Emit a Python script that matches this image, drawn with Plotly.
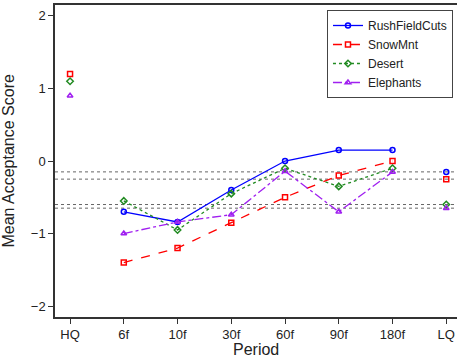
import plotly.graph_objects as go

periods = ["HQ", "6f", "10f", "30f", "60f", "90f", "180f", "LQ"]
rush = [None, -0.70, -0.84, -0.40, 0.00, 0.15, 0.15, -0.15]
snow = [1.20, -1.40, -1.20, -0.85, -0.50, -0.20, 0.00, -0.25]
desert = [1.10, -0.55, -0.95, -0.45, -0.10, -0.35, -0.10, -0.60]
eleph = [0.90, -1.00, -0.84, -0.74, -0.14, -0.70, -0.15, -0.65]

series = [
    ("RushFieldCuts", rush, "#0000FF", "solid", "circle-open"),
    ("SnowMnt", snow, "#FF0000", "dash", "square-open"),
    ("Desert", desert, "#228B22", "dot", "diamond-open"),
    ("Elephants", eleph, "#A020F0", "dashdot", "triangle-up-open"),
]

xi = list(range(len(periods)))
fig = go.Figure()

# reference lines at LQ levels
for name, vals, col, dash, sym in series:
    fig.add_hline(y=vals[-1], line=dict(color="#666666", width=1, dash="dot"), layer="below")

for name, vals, col, dash, sym in series:
    mid_x = xi[1:-1]
    mid_y = vals[1:-1]
    fig.add_trace(go.Scatter(
        x=mid_x, y=mid_y, mode="lines+markers", name=name, legendgroup=name,
        line=dict(color=col, dash=dash, width=1.3),
        marker=dict(symbol=sym, size=5, color=col, line=dict(width=1.5, color=col)),
    ))
    ends_x = [xi[0], xi[-1]]
    ends_y = [vals[0], vals[-1]]
    fig.add_trace(go.Scatter(
        x=ends_x, y=ends_y, mode="markers", name=name, legendgroup=name, showlegend=False,
        marker=dict(symbol=sym, size=5, color=col, line=dict(width=1.5, color=col)),
    ))

font_family = "Liberation Sans, Arial, sans-serif"
fig.update_layout(
    width=458, height=362,
    margin=dict(l=55, r=1, t=5, b=45),
    paper_bgcolor="white", plot_bgcolor="white",
    font=dict(family=font_family, size=13, color="#222222"),
    showlegend=True,
    legend=dict(
        x=0.99, y=0.984, xanchor="right", yanchor="top",
        bordercolor="#444444", borderwidth=1, bgcolor="white",
        font=dict(size=12, family=font_family, color="#222222"),
        tracegroupgap=0, itemwidth=30,
    ),
    annotations=[
        dict(text="Period", x=0.5, y=-0.105, xref="paper", yref="paper",
             xanchor="center", yanchor="middle", showarrow=False,
             font=dict(size=16, family=font_family, color="#222222")),
        dict(text="Mean Acceptance Score", x=-0.118, y=0.5, xref="paper", yref="paper",
             xanchor="center", yanchor="middle", showarrow=False, textangle=-90,
             font=dict(size=16, family=font_family, color="#222222")),
    ],
)
fig.update_xaxes(
    range=[-0.28, 7.2], tickmode="array", tickvals=xi, ticktext=periods,
    showgrid=False, zeroline=False, showline=True, linecolor="#333333", linewidth=1.5,
    mirror=True, ticks="outside", ticklen=5, tickcolor="#333333", automargin=False,
)
fig.update_yaxes(
    range=[-2.15, 2.15], tickvals=[-2, -1, 0, 1, 2], ticktext=["\u22122", "\u22121", "0", "1", "2"],
    showgrid=False, zeroline=False, showline=True, linecolor="#333333", linewidth=1.5,
    ticks="outside", ticklen=5, tickcolor="#333333", automargin=False,
)

fig.write_html("out.html", config={"displayModeBar": False},
               post_script="document.body.style.margin='0';document.body.style.padding='0';")
